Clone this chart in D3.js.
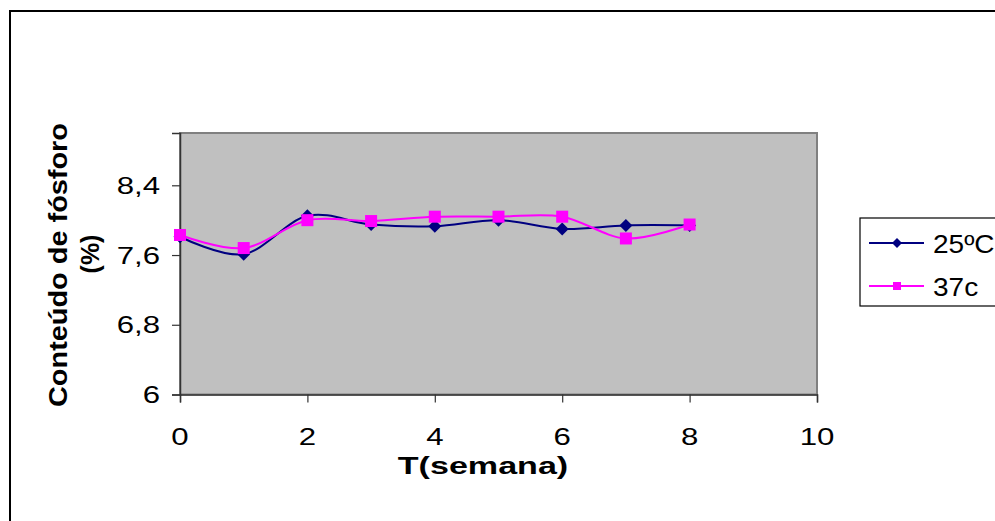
<!DOCTYPE html>
<html>
<head>
<meta charset="utf-8">
<script src="https://cdn.jsdelivr.net/npm/d3@7"></script>
<style>
  html, body { margin: 0; padding: 0; background: #fff; }
  svg { display: block; font-family: Arial, "Liberation Sans", sans-serif; }
</style>
</head>
<body>
<svg id="chart" width="995" height="521"></svg>
<script>
// Phosphorus content over time at two storage temperatures
const weeks = [0, 1, 2, 3, 4, 5, 6, 7, 8];
const temp25 = [7.81, 7.61, 8.05, 7.95, 7.93, 8.00, 7.90, 7.94, 7.94];
const temp37 = [7.83, 7.68, 8.00, 7.99, 8.04, 8.04, 8.04, 7.79, 7.95];
const seriesNames = ["25ºC", "37c"];
const xTicks = [0, 2, 4, 6, 8, 10];
const yTicks = [6, 6.8, 7.6, 8.4];
const yTickLabels = ["6", "6,8", "7,6", "8,4"];
const xTitle = "T(semana)";
const yTitleLines = ["Conteúdo de fósforo", "(%)"];

const svg = d3.select("#chart");
const plot = { left: 180, top: 133, right: 817, bottom: 394.5 };
const stretch = 1.3;

// outer chart frame
svg.append("rect")
  .attr("x", 10).attr("y", 11).attr("width", 1010).attr("height", 530)
  .attr("fill", "none").attr("stroke", "#000").attr("stroke-width", 2);

const x = d3.scaleLinear().domain([0, 10]).range([plot.left, plot.right]);
const y = d3.scaleLinear().domain([6, 9]).range([plot.bottom, plot.top]);

// plot area
svg.append("rect")
  .attr("x", plot.left).attr("y", plot.top)
  .attr("width", plot.right - plot.left).attr("height", plot.bottom - plot.top)
  .attr("fill", "#c0c0c0").attr("stroke", "#808080").attr("stroke-width", 2);

// axes
const xAxis = d3.axisBottom(x).tickValues(xTicks).tickSize(8).tickFormat("");
const yAxis = d3.axisLeft(y).tickValues(yTicks).tickSize(8).tickFormat("");
const gx = svg.append("g").attr("transform", `translate(0,${plot.bottom})`).call(xAxis);
const gy = svg.append("g").attr("transform", `translate(${plot.left},0)`).call(yAxis);
[gx, gy].forEach(g => {
  g.select(".domain").attr("stroke", "#333").attr("stroke-width", 1.5);
  g.selectAll(".tick line").attr("stroke", "#333").attr("stroke-width", 1.2);
});

// tick labels (horizontally widened glyphs)
xTicks.forEach(t => {
  svg.append("text")
    .attr("transform", `translate(${x(t)},445) scale(${stretch},1)`)
    .attr("text-anchor", "middle").attr("font-size", 24).attr("fill", "#000")
    .text(String(t));
});
yTicks.forEach((t, i) => {
  svg.append("text")
    .attr("transform", `translate(160,${y(t) + 8.5}) scale(${stretch},1)`)
    .attr("text-anchor", "end").attr("font-size", 24).attr("fill", "#000")
    .text(yTickLabels[i]);
});

// axis titles
svg.append("text")
  .attr("transform", `translate(483,474) scale(1.42,1)`)
  .attr("text-anchor", "middle").attr("font-size", 24).attr("font-weight", "bold")
  .text(xTitle);
svg.append("text")
  .attr("transform", "translate(67,265) rotate(-90)")
  .attr("text-anchor", "middle").attr("font-size", 26).attr("font-weight", "bold")
  .attr("textLength", 284).attr("lengthAdjust", "spacingAndGlyphs")
  .text(yTitleLines[0]);
svg.append("text")
  .attr("transform", "translate(99,254) rotate(-90)")
  .attr("text-anchor", "middle").attr("font-size", 25).attr("font-weight", "bold")
  .text(yTitleLines[1]);

// series
const line = d3.line().x((d, i) => x(weeks[i])).y(d => y(d)).curve(d3.curveCatmullRom.alpha(0));
const diamond = s => `M0,${-s}L${s},0L0,${s}L${-s},0Z`;

function drawSeries(values, color, marker) {
  svg.append("path").datum(values)
    .attr("d", line).attr("fill", "none").attr("stroke", color).attr("stroke-width", 2);
  const g = svg.append("g");
  values.forEach((v, i) => {
    const cx = x(weeks[i]), cy = y(v);
    if (marker === "diamond") {
      g.append("path").attr("d", diamond(6.5)).attr("transform", `translate(${cx},${cy})`).attr("fill", color);
    } else {
      g.append("rect").attr("x", cx - 6).attr("y", cy - 6).attr("width", 12).attr("height", 12).attr("fill", color);
    }
  });
}
drawSeries(temp25, "#000080", "diamond");
drawSeries(temp37, "#ff00ff", "square");

// legend
const lg = svg.append("g");
lg.append("rect").attr("x", 860).attr("y", 218).attr("width", 200).attr("height", 88)
  .attr("fill", "#fff").attr("stroke", "#000").attr("stroke-width", 1.2);
[{ name: seriesNames[0], color: "#000080", marker: "diamond", cy: 243 },
 { name: seriesNames[1], color: "#ff00ff", marker: "square", cy: 286 }].forEach(e => {
  lg.append("line").attr("x1", 869).attr("x2", 924).attr("y1", e.cy).attr("y2", e.cy)
    .attr("stroke", e.color).attr("stroke-width", 2);
  if (e.marker === "diamond") {
    lg.append("path").attr("d", diamond(5)).attr("transform", `translate(897,${e.cy})`).attr("fill", e.color);
  } else {
    lg.append("rect").attr("x", 893).attr("y", e.cy - 4).attr("width", 8).attr("height", 8).attr("fill", e.color);
  }
  lg.append("text")
    .attr("transform", `translate(933,${e.cy + 9.5}) scale(1.12,1)`)
    .attr("font-size", 25).attr("fill", "#000")
    .text(e.name);
});
</script>
</body>
</html>
